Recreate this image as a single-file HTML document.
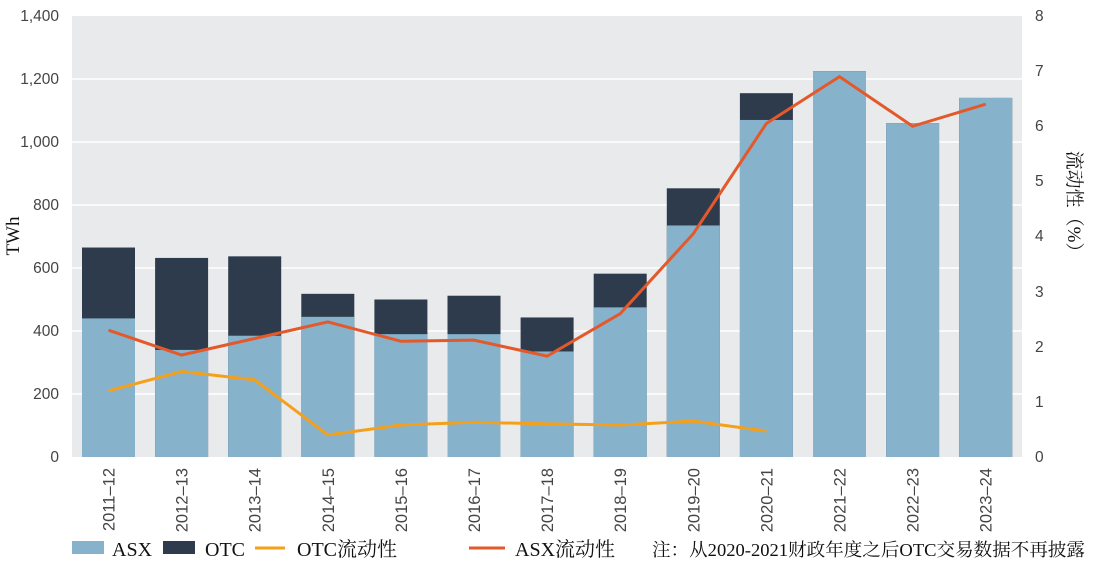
<!DOCTYPE html>
<html><head><meta charset="utf-8"><style>
body{margin:0;background:#fff}
svg{display:block}
.t{font-family:"Liberation Sans",sans-serif;font-size:15.5px;fill:#444}
.x{font-size:16.5px}
.s{font-family:"Liberation Serif","Noto Serif CJK SC",serif;fill:#111}
</style></head><body>
<svg width="1094" height="582" viewBox="0 0 1094 582">
<rect x="72" y="16" width="950" height="441" fill="#e9eaec"/>
<g stroke="#fff" stroke-width="1.5">
<line x1="72" x2="1022" y1="394" y2="394"/><line x1="72" x2="1022" y1="331" y2="331"/>
<line x1="72" x2="1022" y1="268" y2="268"/><line x1="72" x2="1022" y1="205" y2="205"/>
<line x1="72" x2="1022" y1="142" y2="142"/><line x1="72" x2="1022" y1="79" y2="79"/>
</g>
<g class="t" text-anchor="end">
<text x="59" y="462">0</text><text x="59" y="399">200</text><text x="59" y="336">400</text>
<text x="59" y="273">600</text><text x="59" y="210">800</text><text x="59" y="147">1,000</text>
<text x="59" y="84">1,200</text><text x="59" y="21">1,400</text>
</g>
<g class="t">
<text x="1035" y="462">0</text><text x="1035" y="407">1</text><text x="1035" y="352">2</text>
<text x="1035" y="297">3</text><text x="1035" y="241">4</text><text x="1035" y="186">5</text>
<text x="1035" y="131">6</text><text x="1035" y="76">7</text><text x="1035" y="21">8</text>
</g>
<text class="s" font-size="19" transform="translate(19,236) rotate(-90)" text-anchor="middle">TWh</text>
<text class="s" font-size="19" transform="translate(1068,206) rotate(90)" text-anchor="middle">流动性（%）</text>
<g id="bars"></g>
<g id="lab" class="t x"></g>
<polyline id="otc" fill="none" stroke="#f5a01a" stroke-width="3"/>
<polyline id="asx" fill="none" stroke="#e4592a" stroke-width="3"/>
<g class="s" font-size="20">
<rect x="72" y="541" width="32" height="13" fill="#87b2cc"/><text x="112" y="556">ASX</text>
<rect x="163" y="541" width="32" height="13" fill="#2e3b4c"/><text x="205" y="556">OTC</text>
<line x1="255" x2="285" y1="548" y2="548" stroke="#f5a01a" stroke-width="3"/><text x="297" y="556">OTC流动性</text>
<line x1="469" x2="505" y1="548" y2="548" stroke="#e4592a" stroke-width="3"/><text x="515" y="556">ASX流动性</text>
<text x="652" y="556" font-size="18" textLength="433" lengthAdjust="spacingAndGlyphs">注：从2020-2021财政年度之后OTC交易数据不再披露</text>
</g>
</svg>
<script>
var asx=[440,340,385,445,390,390,335,475,735,1070,1225,1060,1140];
var tot=[665,632,637,518,500,512,443,582,853,1155,1225,1060,1140];
var la=[2.3,1.85,2.15,2.45,2.1,2.12,1.83,2.6,4.05,6.05,6.9,6.0,6.4];
var lo=[1.2,1.55,1.4,0.4,0.58,0.63,0.6,0.58,0.65,0.47];
var yrs=["2011–12","2012–13","2013–14","2014–15","2015–16","2016–17","2017–18","2018–19","2019–20","2020–21","2021–22","2022–23","2023–24"];
var ns="http://www.w3.org/2000/svg",b=document.getElementById("bars"),l=document.getElementById("lab");
function cx(i){return 108.5+i*73.1}
function y(v){return 457-v*0.315}
function yr(v){return 457-v*55.125}
for(var i=0;i<13;i++){
 var r=document.createElementNS(ns,"rect");r.setAttribute("x",cx(i)-26.5);r.setAttribute("width",53);
 r.setAttribute("y",y(tot[i]));r.setAttribute("height",457-y(tot[i]));r.setAttribute("fill","#2e3b4c");b.appendChild(r);
 r=document.createElementNS(ns,"rect");r.setAttribute("x",cx(i)-26.5);r.setAttribute("width",53);
 r.setAttribute("y",y(asx[i]));r.setAttribute("height",457-y(asx[i]));r.setAttribute("fill","#87b2cc");b.appendChild(r);
 var t=document.createElementNS(ns,"text");t.textContent=yrs[i];t.setAttribute("text-anchor","end");
 t.setAttribute("transform","translate("+(cx(i)+6)+",468) rotate(-90)");l.appendChild(t);
}
document.getElementById("asx").setAttribute("points",la.map(function(v,i){return cx(i)+","+yr(v)}).join(" "));
document.getElementById("otc").setAttribute("points",lo.map(function(v,i){return cx(i)+","+yr(v)}).join(" "));
</script>
</body></html>
